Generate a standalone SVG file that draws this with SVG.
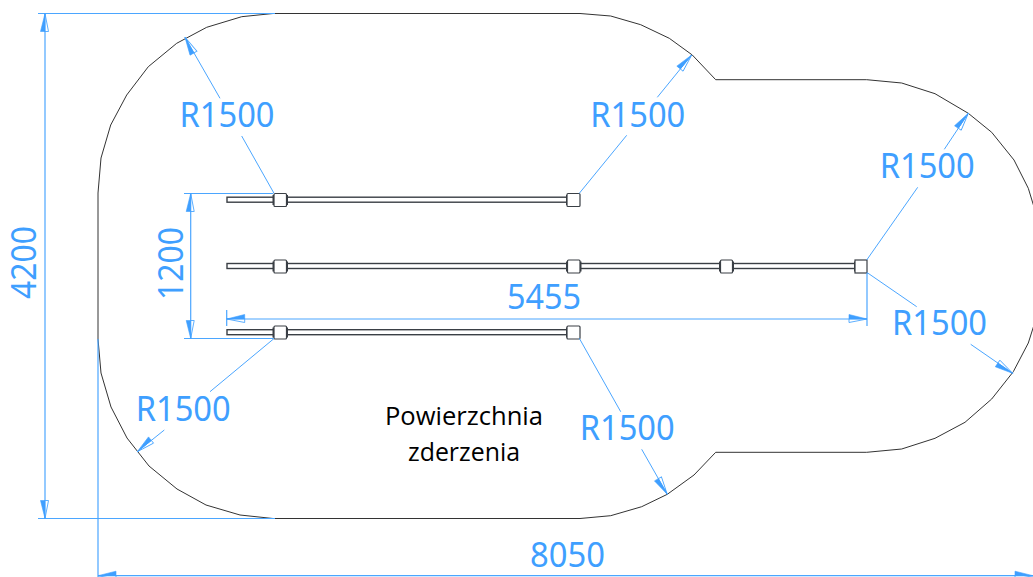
<svg xmlns="http://www.w3.org/2000/svg" width="1033" height="577" viewBox="0 0 1033 577">
<style>
.dim{stroke:#4ba6ff;stroke-width:1.2;fill:none}
.lead{stroke:#4ba6ff;stroke-width:1;fill:none}
.lab{font-family:"Noto Sans",sans-serif;font-size:35px;fill:#3f9fff}
.rod{fill:#fff;stroke:#3a3f45;stroke-width:1.4}
.col{fill:#3a3f45;stroke:none}
.box{fill:#fff;stroke:#3a3f45;stroke-width:1.2}
.note{font-family:"Open Sans",sans-serif;font-size:25px;fill:#000}
</style>
<defs>
<marker id="a" markerUnits="userSpaceOnUse" viewBox="-20 -6 22 12" refX="0" refY="0" markerWidth="22" markerHeight="12" orient="auto">
<path d="M-18 3.5L0 0L-18 0Z" fill="#fff" stroke="#4ba6ff" stroke-width=".9"/><path d="M0 0L-18 -4.5L-18 0Z" fill="#3f9fff" stroke="#3f9fff" stroke-width=".6"/>
</marker>
<marker id="b" markerUnits="userSpaceOnUse" viewBox="-20 -6 22 12" refX="0" refY="0" markerWidth="22" markerHeight="12" orient="auto">
<path d="M-18 -3.5L0 0L-18 0Z" fill="#fff" stroke="#4ba6ff" stroke-width=".9"/><path d="M0 0L-18 4.5L-18 0Z" fill="#3f9fff" stroke="#3f9fff" stroke-width=".6"/>
</marker>
</defs>
<g id="outline"><path d="M273 13.5L580 13.5L610.7 16L640.7 24.7L669.3 38.3L692.3 55L715.7 79.7L866.7 79.7L901.7 83L935 93.7L968.3 113.3L991.7 132.3L1014 160L1028.3 188.3L1034 207M1034 325L1028.3 343L1013.3 371.7L991.7 399L965 422.3L935 438.3L901.7 449L866.7 452.3L715.7 452.3L694 475L667.3 494.3L641.7 506.7L610.7 515.7L580 518.5L273 518.5L240 515L206 505L177 489L149 466L127 438L111 407L101 373L98 339L98 193L101 158L110.7 125L126.7 95L148.3 66.7L176.7 43.3L206.7 27.3L241.7 16.7L273 13.5" fill="none" stroke="#333" stroke-width="1"/></g>
<g id="rod-top">
<rect class="rod" x="227" y="197.2" width="346" height="5"/>
<rect class="col" x="272.5" y="195" width="15.5" height="10"/><rect class="box" x="274" y="193.5" width="12.5" height="13" rx="1"/>
<rect class="col" x="566" y="195" width="4" height="10"/><rect class="box" x="567" y="193.5" width="13" height="13" rx="1"/>
</g>
<g id="rod-middle">
<rect class="rod" x="227" y="263.5" width="634" height="5"/>
<rect class="col" x="272.5" y="261.5" width="15.5" height="10"/><rect class="box" x="274" y="260" width="12.5" height="13" rx="1"/>
<rect class="col" x="566" y="261.5" width="15.5" height="10"/><rect class="box" x="567.5" y="260" width="12.5" height="13" rx="1"/>
<rect class="col" x="719" y="261.5" width="15" height="10"/><rect class="box" x="720.5" y="260" width="12" height="13" rx="1"/>
<rect class="col" x="854" y="261.5" width="6" height="10"/><rect class="box" x="855" y="260" width="12" height="13"/>
</g>
<g id="rod-bottom">
<rect class="rod" x="227" y="329.7" width="346" height="5"/>
<rect class="col" x="272.5" y="327.5" width="15.5" height="10"/><rect class="box" x="274" y="326" width="12.5" height="13" rx="1"/>
<rect class="col" x="566" y="327.5" width="4" height="10"/><rect class="box" x="567" y="326" width="13" height="13" rx="1"/>
</g>
<g id="connectors">
<path class="dim" d="M38 13.5H275M38 518.5H275M184 193.5H273M184 338.5H273M98 339V577M867 273V326M226.7 310V326"/>
<line class="dim" x1="45" y1="265" x2="45" y2="13.5" marker-end="url(#a)"/>
<line class="dim" x1="45" y1="265" x2="45" y2="518.5" marker-end="url(#b)"/>
<line class="dim" x1="190.7" y1="265" x2="190.7" y2="193.5" marker-end="url(#a)"/>
<line class="dim" x1="190.7" y1="265" x2="190.7" y2="338.5" marker-end="url(#b)"/>
<line class="dim" x1="560" y1="319" x2="226.7" y2="319" marker-end="url(#b)"/>
<line class="dim" x1="560" y1="319" x2="867" y2="319" marker-end="url(#a)"/>
<line class="dim" x1="560" y1="575.7" x2="98" y2="575.7" marker-end="url(#b)"/>
<line class="dim" x1="560" y1="575.7" x2="1033" y2="575.7" marker-end="url(#a)"/>
<path class="lead" d="M274 193.3L241.7 136M579.3 193.3L626.7 135.3M866.7 260L917.7 187.3M866.7 272.3L916.7 306.7M579.3 338.3L620.7 411.7M274.3 338.3L210 391.7"/>
<line class="lead" x1="220" y1="98.3" x2="185" y2="37.3" marker-end="url(#a)"/>
<line class="lead" x1="657.3" y1="97.3" x2="691.7" y2="55" marker-end="url(#a)"/>
<line class="lead" x1="944.3" y1="149.3" x2="968.3" y2="113.3" marker-end="url(#a)"/>
<line class="lead" x1="970.7" y1="344.3" x2="1012.7" y2="373.3" marker-end="url(#b)"/>
<line class="lead" x1="641.7" y1="449.3" x2="667.3" y2="494.3" marker-end="url(#b)"/>
<line class="lead" x1="164.3" y1="430" x2="137.3" y2="451.7" marker-end="url(#b)"/>
</g>
<g id="labels">
<text class="lab" x="179.5" y="126.7" textLength="95" lengthAdjust="spacingAndGlyphs">R1500</text>
<text class="lab" x="590.3" y="126.7" textLength="95" lengthAdjust="spacingAndGlyphs">R1500</text>
<text class="lab" x="879.7" y="178" textLength="95" lengthAdjust="spacingAndGlyphs">R1500</text>
<text class="lab" x="892" y="335" textLength="95" lengthAdjust="spacingAndGlyphs">R1500</text>
<text class="lab" x="579.7" y="440" textLength="95" lengthAdjust="spacingAndGlyphs">R1500</text>
<text class="lab" x="135.7" y="421" textLength="95" lengthAdjust="spacingAndGlyphs">R1500</text>
<text class="lab" x="507" y="309" textLength="74" lengthAdjust="spacingAndGlyphs">5455</text>
<text class="lab" x="530" y="566.7" textLength="75" lengthAdjust="spacingAndGlyphs">8050</text>
<text class="lab" transform="translate(36 299) rotate(-90)" textLength="73" lengthAdjust="spacingAndGlyphs">4200</text>
<text class="lab" transform="translate(183 300) rotate(-90)" textLength="73" lengthAdjust="spacingAndGlyphs">1200</text>
<text class="note" x="385" y="425" textLength="158" lengthAdjust="spacingAndGlyphs">Powierzchnia</text>
<text class="note" x="408" y="461" textLength="112" lengthAdjust="spacingAndGlyphs">zderzenia</text>
</g>
</svg>
